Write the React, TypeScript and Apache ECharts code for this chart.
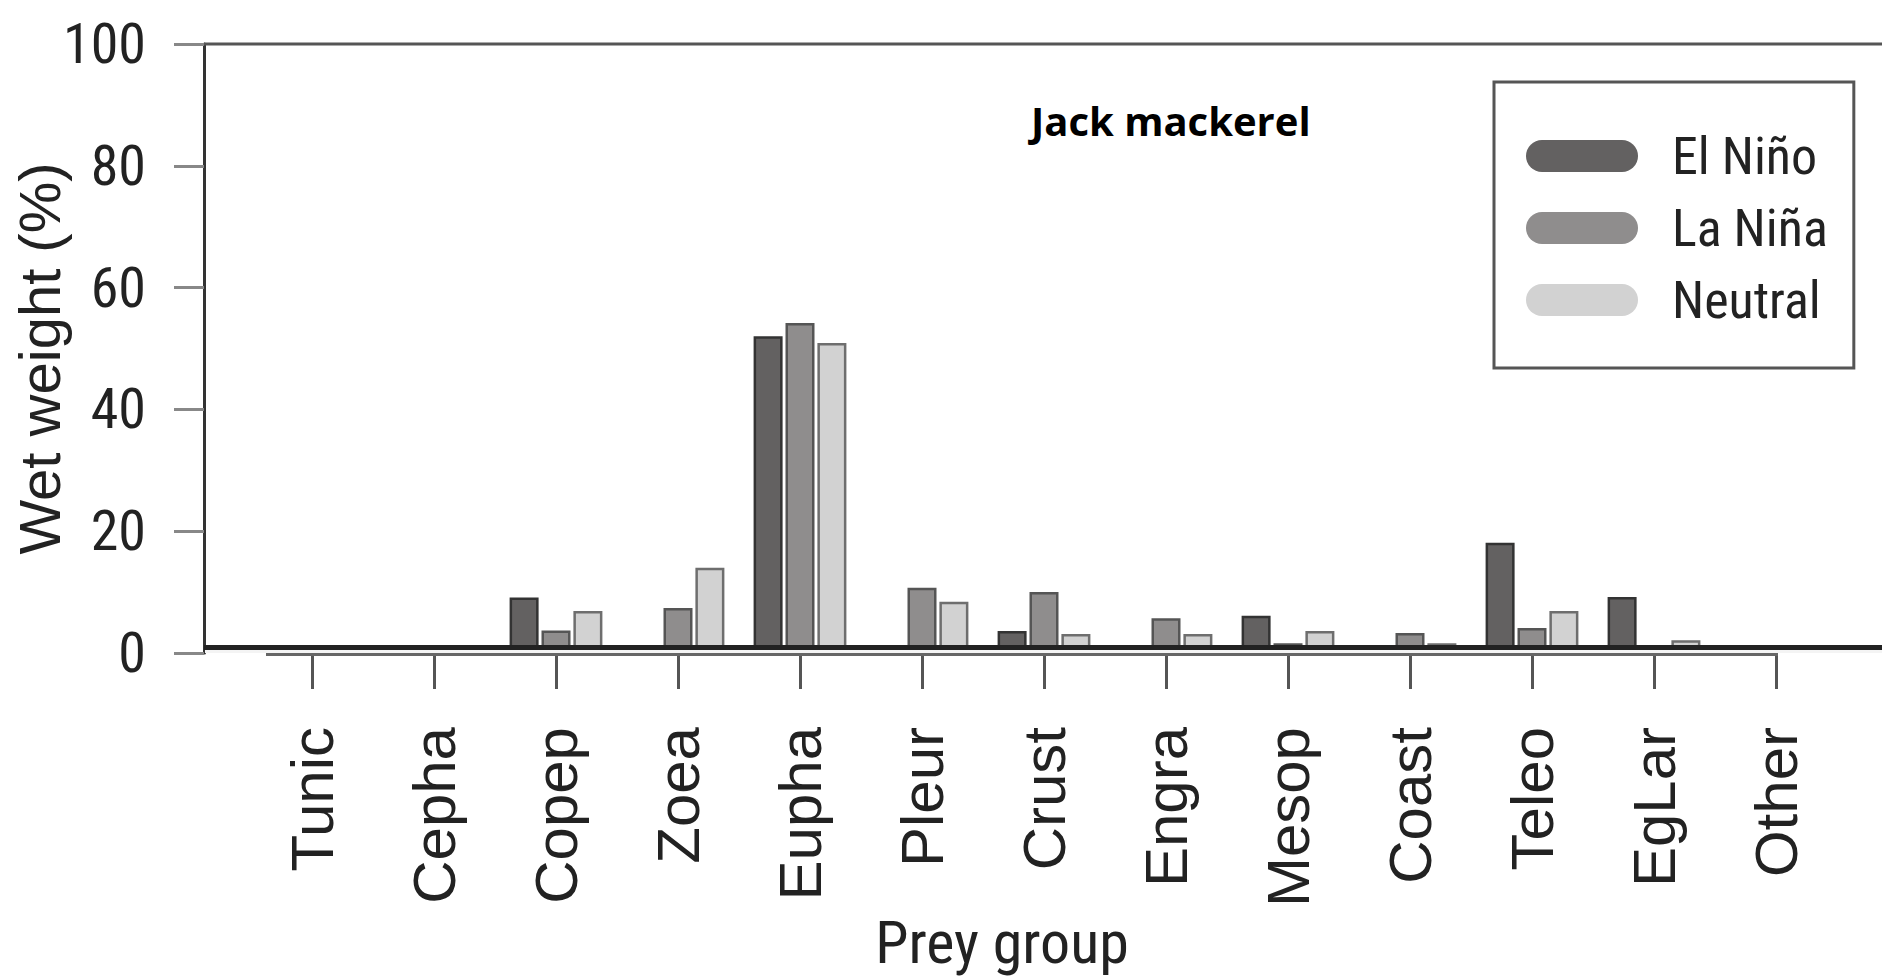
import React, { useEffect, useRef } from "react";
import * as echarts from "echarts";

const categories = ["Tunic", "Cepha", "Copep", "Zoea", "Eupha", "Pleur", "Crust", "Engra", "Mesop", "Coast", "Teleo", "EgLar", "Other"];
const seriesNames = ["El Niño", "La Niña", "Neutral"];
const elNino = [0, 0, 9.1, 0, 52.0, 0, 3.6, 0, 6.1, 0, 18.1, 9.2, 0];
const laNina = [0, 0, 3.7, 7.4, 54.2, 10.7, 10.0, 5.7, 1.6, 3.3, 4.1, 0, 0];
const neutral = [0, 0, 6.9, 14.0, 50.9, 8.4, 3.1, 3.1, 3.6, 1.6, 6.9, 2.1, 1.2];
const yTicks = [0, 20, 40, 60, 80, 100];

const fills = ["#636161", "#8f8d8d", "#d2d2d2"];
const borders = ["#333333", "#555555", "#6e6e6e"];

const NARROW = "'Liberation Sans Narrow', 'Arial Narrow', 'Roboto Condensed', 'DejaVu Sans Condensed', 'Liberation Sans', sans-serif";
const REG = "'Liberation Sans', Arial, sans-serif";

export default function App() {
  const ref = useRef<HTMLDivElement>(null);
  useEffect(() => {
    if (!ref.current) return;
    const chart = echarts.init(ref.current, undefined, { renderer: "svg" });
    const data = [elNino, laNina, neutral];
    const option: any = {
      animation: false,
      backgroundColor: "#ffffff",
      title: {
        text: "Jack mackerel",
        left: 1031,
        top: 100,
        padding: 0,
        textStyle: { fontFamily: "'Open Sans', sans-serif", fontWeight: "bold", fontSize: 40, color: "#000" },
      },
      legend: {
        orient: "vertical",
        left: 1494,
        top: 82,
        padding: [48, 26, 42, 32],
        itemWidth: 112,
        itemHeight: 32,
        itemGap: 20,
        borderColor: "#555",
        borderWidth: 3,
        icon: "path://M16,0L96,0A16,16,0,0,1,96,32L16,32A16,16,0,0,1,16,0Z",
        itemStyle: { borderWidth: 0 },
        textStyle: { fontFamily: NARROW, fontSize: 52, color: "#222", padding: [0, 0, 0, 29] },
        data: seriesNames,
      },
      grid: { left: 251, right: 45, top: 44, bottom: 327, containLabel: false, outerBoundsMode: "none" },
      xAxis: {
        type: "category",
        data: categories,
        axisLine: { show: false },
        axisTick: { show: true, alignWithLabel: true, length: 36, lineStyle: { color: "#555", width: 3 } },
        axisLabel: { rotate: 90, margin: 74, fontFamily: REG, fontSize: 60, color: "#222", interval: 0 },
        name: "Prey group",
        nameLocation: "middle",
        nameGap: 259,
        nameMoveOverlap: false,
        nameTextStyle: { fontFamily: NARROW, fontSize: 60, lineHeight: 60, color: "#222", padding: [0, 84, 0, 0] },
      },
      yAxis: {
        type: "value",
        min: 0,
        max: 100,
        interval: 20,
        offset: 47,
        axisLine: { show: true, lineStyle: { color: "#333", width: 3 } },
        axisTick: { show: true, length: 30, lineStyle: { color: "#888", width: 3 } },
        splitLine: { show: false },
        axisLabel: {
          margin: 58,
          fontFamily: NARROW,
          fontSize: 56,
          color: "#222",
          formatter: (v: number) => (yTicks.includes(v) ? String(v) : ""),
        },
        name: "Wet weight (%)",
        nameLocation: "middle",
        nameGap: 136,
        nameMoveOverlap: false,
        nameTextStyle: { fontFamily: REG, fontSize: 58, lineHeight: 58, color: "#222", padding: [0, 20, 0, 0] },
      },
      graphic: [
        { type: "line", z: 50, shape: { x1: 204, y1: 44, x2: 1882, y2: 44 }, style: { stroke: "#555", lineWidth: 3 } },
        { type: "rect", z: 50, shape: { x: 205, y: 649, width: 1677, height: 4 }, style: { fill: "#f4f4f4" } },
        { type: "line", z: 51, shape: { x1: 204, y1: 647.5, x2: 1882, y2: 647.5 }, style: { stroke: "#222", lineWidth: 5 } },
        { type: "line", z: 51, shape: { x1: 266, y1: 654.5, x2: 1778, y2: 654.5 }, style: { stroke: "#666", lineWidth: 3 } },
      ],
      series: seriesNames.map((name, i) => ({
        name,
        type: "bar",
        data: data[i].map((v) => (v === 0 ? null : v)),
        barWidth: 29,
        barGap: "10%",
        itemStyle: { color: fills[i], borderColor: borders[i], borderWidth: 2.5 },
      })),
    };
    chart.setOption(option);
    return () => chart.dispose();
  }, []);
  return <div ref={ref} style={{ position: "fixed", left: 0, top: 0, width: 1882, height: 980 }} />;
}
